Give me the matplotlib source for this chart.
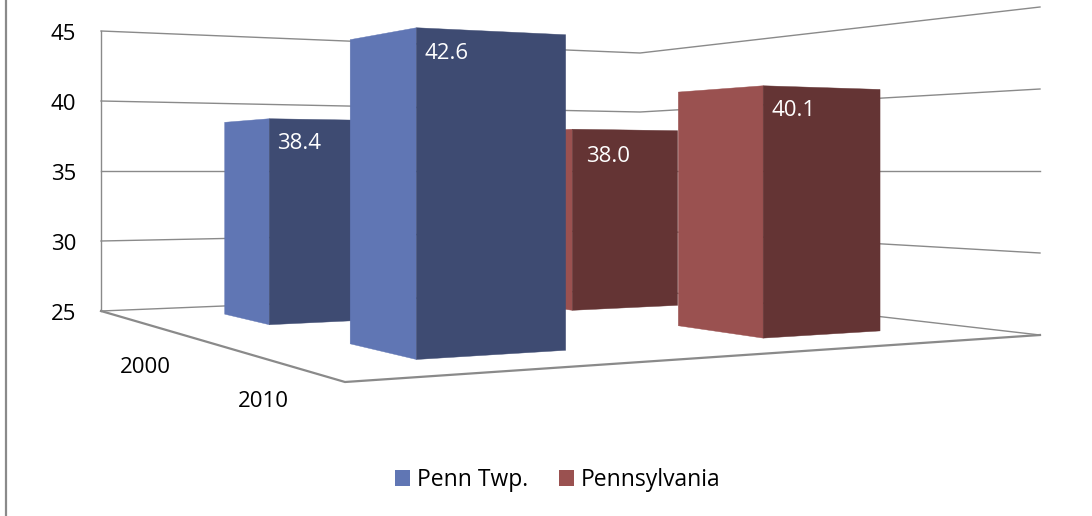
import matplotlib
matplotlib.use('Agg')
import matplotlib.pyplot as plt
from matplotlib.patches import Patch, Polygon

plt.rcParams['font.family'] = ['Open Sans', 'DejaVu Sans']

# data
years = ['2000', '2010']
series = ['Penn Twp.', 'Pennsylvania']
penn_twp = [38.4, 42.6]
pennsylvania = [38.0, 40.1]
value_ticks = [25, 30, 35, 40, 45]

# styles
light = ['#6076B4', '#9A5150']
dark = ['#3E4B72', '#643434']
grid = '#8A8A8A'
label_dx = [[8, 8], [14, 8]]
label_dy = [[22, 23], [25, 22]]
fsize = 16

# floor corners on screen (pixels)
x00, y00 = 345, 382    # front left
x10, y10 = 1040, 335   # front right
x01, y01 = 101, 311    # back left
x11, y11 = 640, 289    # back right
eye_y = 171
z_min, z_eye = 25, 35

dx1, dx2, sx = x10 - x11, x01 - x11, x00 - x10 + x11 - x01
dy1, dy2, sy = y10 - y11, y01 - y11, y00 - y10 + y11 - y01
den = dx1 * dy2 - dx2 * dy1
g = (sx * dy2 - dx2 * sy) / den
h = (dx1 * sy - sx * dy1) / den


def project(u, v, z=z_min):
    # u along series, v into the picture (year axis), z the value
    w = g * u + h * v + 1
    x = ((x10 - x00 + g * x10) * u + (x01 - x00 + h * x01) * v + x00) / w
    yf = ((y10 - y00 + g * y10) * u + (y01 - y00 + h * y01) * v + y00) / w
    y = eye_y + (yf - eye_y) * (z_eye - z) / (z_eye - z_min)
    return x, y


fig = plt.figure(figsize=(10.92, 5.16), dpi=100)
ax = fig.add_axes([0, 0, 1, 1])
ax.set_xlim(0, 1092)
ax.set_ylim(516, 0)
ax.axis('off')

# chart border on the left
ax.plot([5.5, 5.5], [0, 516], color=grid, lw=1.6, zorder=1)

# walls
for z in value_ticks:
    pts = [project(0, 1, z), project(1, 1, z), project(1, 0, z)]
    ax.plot([p[0] for p in pts], [p[1] for p in pts], color=grid, lw=1.0, zorder=1)
    xt, yt = project(0, 1, z)
    ax.text(xt - 25, yt + 1, str(z), ha='right', va='center_baseline', fontsize=fsize, color='black')

p_top, p_bot = project(0, 1, value_ticks[-1]), project(0, 1, value_ticks[0])
ax.plot([p_top[0], p_bot[0]], [p_top[1], p_bot[1]], color=grid, lw=1.0, zorder=1)

# front floor edges
pts = [project(0, 1), project(0, 0), project(1, 0)]
ax.plot([p[0] for p in pts], [p[1] for p in pts], color=grid, lw=1.6, zorder=1)

# year labels under the floor edge
for j, year in enumerate(years):
    xt, yt = project(0, (len(years) - j - 0.5) / len(years))
    ax.text(xt, yt + 41, year, ha='center', va='center_baseline', fontsize=fsize, color='black')

# bars, back row first
values = [penn_twp, pennsylvania]
bar_w = 0.2
order = 2
for j in range(len(years)):
    v0 = (len(years) - j - 0.5) / len(years) - bar_w / 2
    v1 = v0 + bar_w
    for i in range(len(series)):
        u0 = (i + 0.5) / len(series) - bar_w / 2
        u1 = u0 + bar_w
        val = values[i][j]
        left = [project(u0, v1), project(u0, v0), project(u0, v0, val), project(u0, v1, val)]
        right = [project(u0, v0), project(u1, v0), project(u1, v0, val), project(u0, v0, val)]
        ax.add_patch(Polygon(left, closed=True, fc=light[i], ec=light[i], lw=0.3, zorder=order))
        ax.add_patch(Polygon(right, closed=True, fc=dark[i], ec=dark[i], lw=0.3, zorder=order))
        xn, yn = project(u0, v0, val)
        ax.text(xn + label_dx[i][j], yn + label_dy[i][j], f'{val:.1f}', ha='left', va='center_baseline',
                fontsize=fsize, color='white', zorder=order + 1)
        order += 2

handles = [Patch(fc=light[0], ec='none', label=series[0]), Patch(fc=light[1], ec='none', label=series[1])]
ax.legend(handles=handles, ncols=2, loc='center', bbox_to_anchor=(557.5, 480), bbox_transform=ax.transData,
          frameon=False, fontsize=16.5, handlelength=0.65, handleheight=0.65, handletextpad=0.3,
          columnspacing=1.35, borderpad=0, labelspacing=0)

fig.savefig('out.png', dpi=100)
